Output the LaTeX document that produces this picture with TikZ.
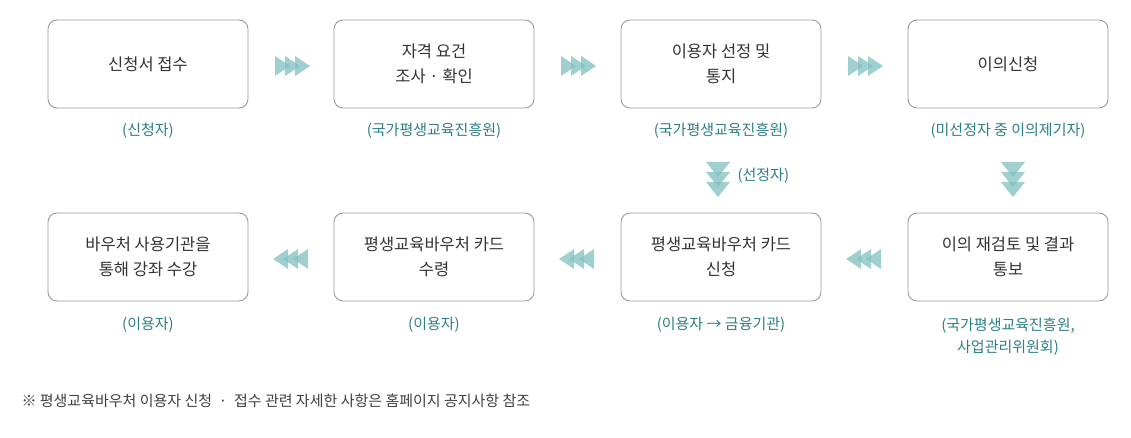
\documentclass[tikz,border=0pt]{standalone}
\usepackage{fontspec}
\newfontfamily\kr{Noto Sans CJK KR}
\definecolor{bd}{HTML}{9A9A9A}
\definecolor{tl}{HTML}{2C7F84}
\definecolor{ar}{HTML}{7FC0BF}
\begin{document}
\begin{tikzpicture}[x=1pt,y=-1pt,
  box/.style={draw=bd,rounded corners=9pt,minimum width=200pt,minimum height=88pt,align=center,font=\kr\fontsize{16.5}{25}\selectfont,text=black!80,line width=0.9pt},
  sub/.style={font=\kr\fontsize{15}{22}\selectfont,text=tl,align=center},
  tri/.style={fill=ar,draw=none,opacity=0.75}]
\useasboundingbox (0,0) rectangle (1131,438);
\node[box] (b1) at (148,64) {신청서 접수};
\node[box] (b2) at (434,64) {자격 요건\\조사 · 확인};
\node[box] (b3) at (721,64) {이용자 선정 및\\통지};
\node[box] (b4) at (1008,64) {이의신청};
\node[box] (b5) at (148,257) {바우처 사용기관을\\통해 강좌 수강};
\node[box] (b6) at (434,257) {평생교육바우처 카드\\수령};
\node[box] (b7) at (721,257) {평생교육바우처 카드\\신청};
\node[box] (b8) at (1008,257) {이의 재검토 및 결과\\통보};
\node[sub] (s1) at (148,131) {(신청자)};
\node[sub] (s2) at (434,131) {(국가평생교육진흥원)};
\node[sub] (s3) at (721,131) {(국가평생교육진흥원)};
\node[sub] (s4) at (1008,131) {(미선정자 중 이의제기자)};
\node[sub] (s5) at (148,325) {(이용자)};
\node[sub] (s6) at (434,325) {(이용자)};
\node[sub] (s7) at (721,325) {(이용자 → 금융기관)};
\node[sub] (s8) at (1008,337) {(국가평생교육진흥원,\\사업관리위원회)};
\node[sub,anchor=west] (s9) at (734,176) {(선정자)};
\node[font=\kr\fontsize{15}{20}\selectfont,text=black!75,anchor=west] (fn) at (18,401) {※ 평생교육바우처 이용자 신청 \ · \ 접수 관련 자세한 사항은 홈페이지 공지사항 참조};
% right arrows
\foreach \cx in {275,561,848}{
  \foreach \i in {0,1,2}{
    \fill[tri] (\cx+\i*10,56) -- (\cx+\i*10+15,66) -- (\cx+\i*10,76) -- cycle;}}
% left arrows
\foreach \cx in {308,594,881}{
  \foreach \i in {0,1,2}{
    \fill[tri] (\cx-\i*10,249) -- (\cx-\i*10-15,259) -- (\cx-\i*10,269) -- cycle;}}
% down arrows
\foreach \cx in {718,1013}{
  \foreach \i in {0,1,2}{
    \fill[tri] (\cx-12,162+\i*10) -- (\cx+12,162+\i*10) -- (\cx,177+\i*10) -- cycle;}}
\end{tikzpicture}
\end{document}
